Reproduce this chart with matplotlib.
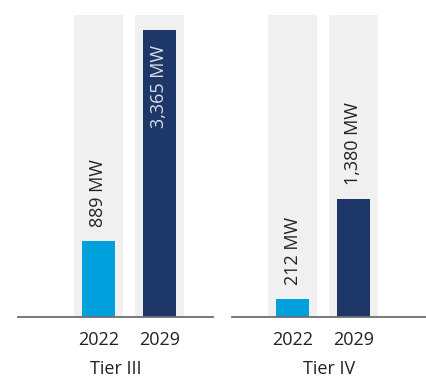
import matplotlib.pyplot as plt

# capacity per tier, MW
tiers = ['Tier III', 'Tier IV']
years = ['2022', '2029']
tier3_mw = [889, 3365]
tier4_mw = [212, 1380]

colors = ['#00A0DC', '#1C3768']
bg_color = '#F0F0F0'
text_color = '#222222'
ymax = 3540

plt.rcParams['font.family'] = ['Open Sans', 'DejaVu Sans']

fig = plt.figure(figsize=(4.26, 3.79), dpi=100)
ax1 = fig.add_axes([0.042, 0.1636, 0.458, 0.797])
ax2 = fig.add_axes([0.545, 0.1636, 0.455, 0.797])


def draw_panel(ax, values, title, xlim):
    x = list(range(len(values)))
    # light grey columns behind each bar
    ax.bar(x, [ymax] * len(values), width=0.8, color=bg_color, zorder=1)
    ax.bar(x, values, width=0.54, color=colors, zorder=2)
    for xi, v in zip(x, values):
        label = f'{v:,} MW'
        if v > ymax * 0.75:
            ax.annotate(label, (xi, v), xytext=(0, -11), textcoords='offset points',
                        rotation=90, ha='center', va='top', fontsize=13,
                        color='#DDE1EA', zorder=3)
        else:
            ax.annotate(label, (xi, v), xytext=(0, 10), textcoords='offset points',
                        rotation=90, ha='center', va='bottom', fontsize=13,
                        color=text_color, zorder=3)
    ax.set_xlim(*xlim)
    ax.set_ylim(0, ymax)
    ax.set_xticks(x)
    ax.set_xticklabels(years, fontsize=13, color=text_color)
    ax.tick_params(axis='x', length=0, pad=10)
    ax.set_yticks([])
    for side in ['top', 'right', 'left']:
        ax.spines[side].set_visible(False)
    ax.spines['bottom'].set_color('#6E6E6E')
    ax.spines['bottom'].set_linewidth(1.3)
    ax.spines['bottom'].set_zorder(4)
    ax.set_xlabel(title, fontsize=13, color=text_color, labelpad=8)


draw_panel(ax1, tier3_mw, tiers[0], (-1.32, 1.877))
draw_panel(ax2, tier4_mw, tiers[1], (-0.99, 2.19))

fig.savefig('out.png', dpi=100)
